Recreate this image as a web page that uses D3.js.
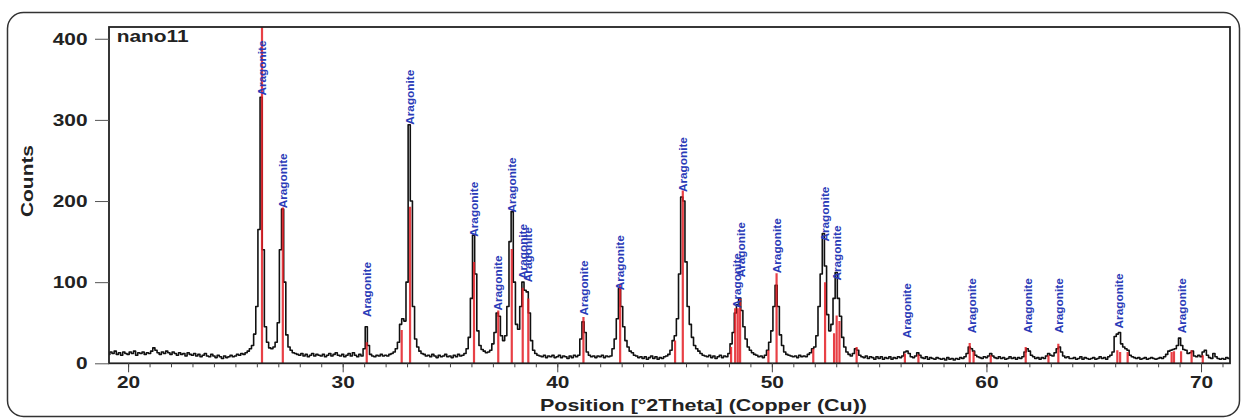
<!DOCTYPE html>
<html>
<head>
<meta charset="utf-8">
<script src="https://cdn.jsdelivr.net/npm/d3@7"></script>
<style>
    body { margin: 0; background: #fff; }
    svg { display: block; }
</style>
</head>
<body>
<svg id="chart" width="1247" height="420"></svg>
<script>
// sample / phase names
const sampleName = "nano11";
const phaseName = "Aragonite";

// measured pattern, counts on a 0.1 deg grid starting at 19.0 deg 2theta (one row per degree)
const thetaStart = 19.0;
const thetaStep = 0.1;
const counts = [
    13, 11, 14, 12, 15, 11, 13, 10, 14, 12,   // 19
    11, 14, 12, 15, 10, 13, 12, 14, 11, 13,   // 20
    12, 15, 19, 16, 13, 11, 14, 12, 15, 13,   // 21
    11, 14, 12, 10, 13, 11, 12, 9, 13, 11,    // 22
    10, 12, 9, 11, 8, 10, 12, 9, 8, 11,       // 23
    9, 7, 10, 8, 6, 9, 7, 8, 10, 8,           // 24
    9, 11, 10, 12, 11, 13, 15, 18, 22, 36,    // 25
    70, 165, 328, 140, 45, 26, 19, 18, 20, 26, // 26
    50, 140, 190, 100, 35, 20, 16, 13, 12, 11, // 27
    10, 12, 9, 11, 8, 10, 12, 9, 11, 10,      // 28
    9, 11, 8, 10, 12, 9, 11, 13, 10, 9,       // 29
    11, 8, 10, 12, 9, 13, 10, 8, 11, 9,       // 30
    18, 45, 22, 11, 9, 8, 10, 9, 11, 9,       // 31
    10, 9, 11, 12, 14, 18, 26, 48, 55, 52,    // 32
    100, 294, 200, 70, 30, 20, 15, 12, 11, 9, // 33
    10, 8, 11, 9, 7, 10, 8, 9, 11, 8,         // 34
    9, 7, 10, 8, 11, 9, 10, 12, 18, 32,       // 35
    80, 158, 110, 40, 22, 17, 15, 13, 14, 16, // 36
    24, 38, 62, 58, 34, 28, 34, 70, 150, 187, // 37
    100, 48, 42, 70, 100, 90, 88, 62, 28, 16, // 38
    12, 10, 9, 8, 10, 7, 9, 8, 10, 7,         // 39
    8, 10, 7, 9, 8, 6, 9, 7, 10, 8,           // 40
    10, 30, 51, 38, 14, 10, 8, 9, 7, 9,       // 41
    8, 10, 7, 9, 8, 9, 18, 30, 55, 92,        // 42
    70, 45, 28, 20, 15, 13, 10, 9, 7, 8,      // 43
    6, 8, 5, 7, 9, 6, 8, 5, 7, 6,             // 44
    8, 9, 11, 16, 28, 34, 55, 110, 205, 200,  // 45
    125, 70, 48, 32, 22, 18, 15, 12, 10, 9,   // 46
    8, 10, 7, 9, 6, 8, 10, 7, 9, 8,           // 47
    12, 24, 38, 62, 72, 80, 65, 45, 30, 20,   // 48
    16, 13, 11, 10, 8, 9, 7, 10, 16, 26,      // 49
    40, 70, 96, 70, 35, 22, 14, 11, 10, 9,    // 50
    8, 9, 7, 10, 8, 9, 8, 11, 13, 18,         // 51
    20, 34, 70, 110, 160, 120, 60, 40, 48, 80, // 52
    112, 80, 58, 32, 20, 14, 11, 9, 12, 18,   // 53
    16, 10, 8, 7, 9, 6, 8, 7, 5, 8,           // 54
    6, 8, 5, 7, 6, 8, 5, 7, 6, 8,             // 55
    7, 9, 14, 15, 12, 8, 7, 9, 13, 10,        // 56
    7, 6, 8, 5, 7, 6, 5, 7, 6, 5,             // 57
    6, 4, 7, 5, 6, 4, 6, 5, 7, 6,             // 58
    8, 12, 20, 18, 15, 10, 8, 7, 6, 8,        // 59
    7, 9, 12, 9, 7, 6, 8, 6, 7, 5,            // 60
    6, 8, 6, 7, 5, 7, 6, 8, 14, 18,           // 61
    15, 10, 8, 6, 7, 5, 7, 6, 9, 12,          // 62
    10, 9, 13, 18, 20, 14, 9, 7, 8, 6,        // 63
    6, 7, 5, 6, 8, 5, 7, 6, 5, 6,             // 64
    7, 5, 6, 8, 6, 7, 5, 8, 10, 14,           // 65
    33, 36, 38, 24, 20, 18, 16, 10, 8, 7,     // 66
    6, 7, 5, 6, 7, 5, 6, 7, 6, 5,             // 67
    6, 7, 6, 8, 11, 15, 16, 17, 18, 22,       // 68
    31, 22, 17, 16, 12, 13, 15, 9, 8, 10,     // 69
    8, 14, 16, 10, 7, 6, 12, 8, 6, 5,         // 70
    6, 5, 7, 6, 5                             // 71
];

// reference (stick) pattern
const refPositions = [26.24, 27.21, 31.12, 32.75, 33.14, 36.12, 37.25, 37.88, 38.39, 38.65,
    41.22, 42.93, 45.49, 45.85, 48.10, 48.29, 48.41, 48.52, 49.84, 50.22,
    51.93, 52.48, 52.90, 53.02, 53.15, 53.95, 56.20, 56.83, 59.22, 59.40,
    60.20, 61.83, 62.89, 63.35, 66.10, 66.23, 66.58, 68.63, 68.74, 69.07,
    69.56, 70.08];
const refHeights = [430, 192, 26, 41, 193, 125, 65, 141, 93, 80,
    57, 97, 28, 213, 20, 68, 68, 80, 16, 111,
    18, 100, 37, 59, 52, 20, 12, 11, 25, 15,
    10, 20, 10, 24, 16, 14, 14, 14, 15, 15,
    16, 10];

// peak labels
const labelPositions = [26.24, 27.21, 31.12, 33.14, 36.12, 37.25, 37.88, 38.39, 38.65, 41.22,
    42.93, 45.85, 48.35, 48.55, 50.22, 52.45, 53.02, 56.27, 59.31, 61.94,
    63.38, 66.18, 69.1];
const labelHeights = [330, 191, 57, 294, 156, 65, 186, 104, 100, 59,
    90, 211, 68, 106, 111, 150, 102, 31, 37, 37,
    37, 43, 37];

const xMajorTicks = [20, 30, 40, 50, 60, 70];
const xMinorTicks = d3.range(20, 72, 1);
const yTicks = [0, 100, 200, 300, 400];

const width = 1247;
const height = 420;
const plot = { left: 109, right: 1230, top: 27, bottom: 363.3 };
const font = "'Liberation Sans', Arial, Helvetica, sans-serif";

const svg = d3.select("#chart");

const x = d3.scaleLinear()
    .domain([19.11, 71.35])
    .range([plot.left, plot.right]);

const y = d3.scaleLinear()
    .domain([0, 414.5])
    .range([plot.bottom, plot.top]);

const pattern = counts.map((c, i) => [+(thetaStart + i * thetaStep).toFixed(2), c]);

// outer frame
svg.append("rect")
    .attr("x", 7.5)
    .attr("y", 12.5)
    .attr("width", 1232)
    .attr("height", 404)
    .attr("rx", 16)
    .attr("fill", "none")
    .attr("stroke", "#333")
    .attr("stroke-width", 1.5);

svg.append("clipPath")
    .attr("id", "plot-clip")
    .append("rect")
    .attr("x", plot.left)
    .attr("y", plot.top)
    .attr("width", plot.right - plot.left)
    .attr("height", plot.bottom - plot.top);

const area = svg.append("g").attr("clip-path", "url(#plot-clip)");

// measured trace
area.append("path")
    .datum(pattern)
    .attr("fill", "none")
    .attr("stroke", "#111")
    .attr("stroke-width", 1.6)
    .attr("stroke-linejoin", "round")
    .attr("d", d3.line()
        .x(d => x(d[0]))
        .y(d => y(d[1]))
        .curve(d3.curveStep));

// reference sticks
area.append("g")
    .selectAll("line")
    .data(refPositions)
    .join("line")
    .attr("x1", d => x(d))
    .attr("x2", d => x(d))
    .attr("y1", y(0))
    .attr("y2", (d, i) => y(refHeights[i]))
    .attr("stroke", "#e41e26")
    .attr("stroke-opacity", 0.85)
    .attr("stroke-width", 2.2);

// phase labels
svg.append("g")
    .selectAll("text")
    .data(labelPositions)
    .join("text")
    .attr("transform", (d, i) => `translate(${x(d)},${y(labelHeights[i])}) rotate(-90)`)
    .attr("dy", "0.36em")
    .attr("text-anchor", "start")
    .attr("font-family", font)
    .attr("font-weight", "bold")
    .attr("font-size", 11.5)
    .attr("fill", "#2a3bb8")
    .attr("textLength", 55)
    .attr("lengthAdjust", "spacingAndGlyphs")
    .text(phaseName);

// plot border
svg.append("rect")
    .attr("x", plot.left)
    .attr("y", plot.top)
    .attr("width", plot.right - plot.left)
    .attr("height", plot.bottom - plot.top)
    .attr("fill", "none")
    .attr("stroke", "#222")
    .attr("stroke-width", 1.8);

// x axis
svg.append("g")
    .attr("transform", `translate(0,${plot.bottom})`)
    .call(d3.axisBottom(x).tickValues(xMinorTicks).tickSize(4).tickFormat(""))
    .call(g => g.select(".domain").remove())
    .call(g => g.selectAll(".tick line").attr("stroke", "#444"));

svg.append("g")
    .attr("transform", `translate(0,${plot.bottom})`)
    .call(d3.axisBottom(x).tickValues(xMajorTicks).tickSize(9).tickPadding(4))
    .call(g => g.select(".domain").remove())
    .call(g => g.selectAll(".tick line").attr("stroke", "#444"));

// y axis
svg.append("g")
    .attr("transform", `translate(${plot.left},0)`)
    .call(d3.axisLeft(y).tickValues(yTicks).tickSize(14).tickPadding(7.5))
    .call(g => g.select(".domain").remove())
    .call(g => g.selectAll(".tick line").attr("stroke", "#555"));

svg.selectAll(".tick text")
    .attr("font-family", font)
    .attr("font-weight", "bold")
    .attr("font-size", 16.5)
    .attr("fill", "#222")
    .attr("textLength", function () { return this.textContent.length * 11.6; })
    .attr("lengthAdjust", "spacingAndGlyphs");

// titles
svg.append("text")
    .attr("transform", "translate(33.3,181) rotate(-90)")
    .attr("text-anchor", "middle")
    .attr("font-family", font)
    .attr("font-weight", "bold")
    .attr("font-size", 16)
    .attr("fill", "#222")
    .attr("textLength", 72)
    .attr("lengthAdjust", "spacingAndGlyphs")
    .text("Counts");

svg.append("text")
    .attr("x", 540)
    .attr("y", 411)
    .attr("font-family", font)
    .attr("font-weight", "bold")
    .attr("font-size", 17)
    .attr("fill", "#222")
    .attr("textLength", 327)
    .attr("lengthAdjust", "spacingAndGlyphs")
    .text("Position [°2Theta] (Copper (Cu))");

svg.append("text")
    .attr("x", 116.7)
    .attr("y", 41.7)
    .attr("font-family", font)
    .attr("font-weight", "bold")
    .attr("font-size", 16)
    .attr("fill", "#222")
    .attr("textLength", 72)
    .attr("lengthAdjust", "spacingAndGlyphs")
    .text(sampleName);
</script>
</body>
</html>
